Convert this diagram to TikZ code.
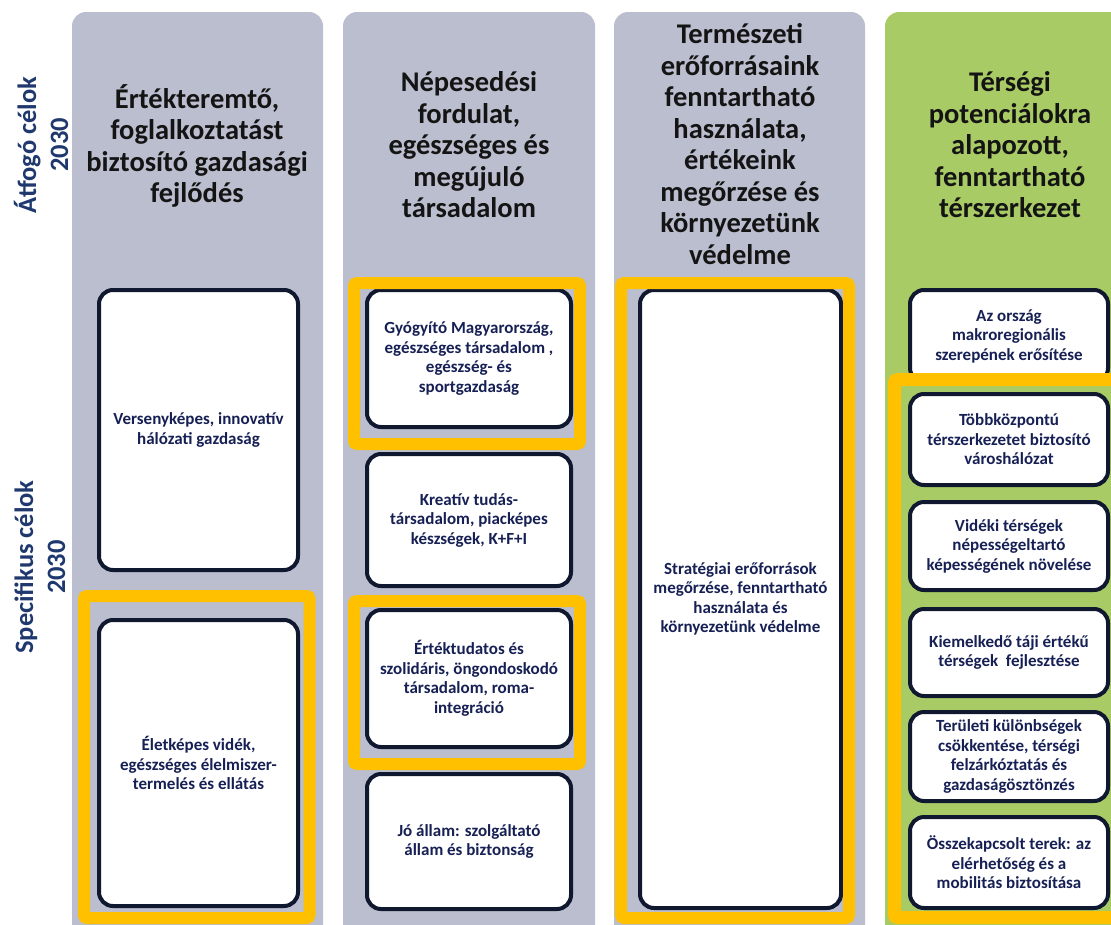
\documentclass[tikz,border=0pt]{standalone}
\usepackage{fontspec}
\setmainfont{Carlito}

\definecolor{colgray}{RGB}{186,190,206}
\definecolor{colgreen}{RGB}{169,203,101}
\definecolor{framegold}{RGB}{255,192,0}
\definecolor{boxline}{RGB}{16,24,48}
\definecolor{boxtext}{RGB}{22,32,84}
\definecolor{sidetext}{RGB}{31,56,110}

\tikzset{
  column/.style={rounded corners=14pt},
  goal/.style={draw=boxline, line width=4pt, fill=white, rounded corners=14pt,
    align=center, text=boxtext, inner sep=0pt,
    font=\fontsize{17}{19.5}\selectfont\bfseries},
  head/.style={align=center, text=black!92,
    font=\fontsize{28.5}{31.5}\selectfont\bfseries},
  side/.style={rotate=90, align=center, text=sidetext,
    font=\fontsize{26.5}{32}\selectfont\bfseries},
  frame/.style={draw=framegold, line width=12pt, rounded corners=3pt},
}

\begin{document}
\begin{tikzpicture}[x=1pt, y=-1pt]
  \useasboundingbox (0,0) rectangle (1111,924);

  % columns
  \fill[colgray, column] (72,12) rectangle (323,960);
  \fill[colgray, column] (343,12) rectangle (595,960);
  \fill[colgray, column] (614,12) rectangle (865,960);
  \fill[colgreen, column] (885,12) rectangle (1140,960);

  % row labels
  \node[side] (atfogo) at (41,145) {Átfogó célok\\2030};
  \node[side] (specifikus) at (40,567) {Specifikus célok\\2030};

  % headings
  \node[head] (h1) at (197,146) {Értékteremtő,\\foglalkoztatást\\biztosító gazdasági\\fejlődés};
  \node[head] (h2) at (469,145) {Népesedési\\fordulat,\\egészséges és\\megújuló\\társadalom};
  \node[head] (h3) at (740,144) {Természeti\\erőforrásaink\\fenntartható\\használata,\\értékeink\\megőrzése és\\környezetünk\\védelme};
  \node[head] (h4) at (1010,145) {Térségi\\potenciálokra\\alapozott,\\fenntartható\\térszerkezet};

  % column 1
  \node[goal, minimum width=199pt, minimum height=280pt] (verseny) at (198.5,430)
    {Versenyképes, innovatív\\hálózati gazdaság};
  \node[goal, minimum width=199pt, minimum height=286pt] (videk) at (198.5,763)
    {Életképes vidék,\\egészséges élelmiszer-\\termelés és ellátás};

  % column 2
  \node[goal, minimum width=204pt, minimum height=137pt] (gyogyito) at (469,358.5)
    {Gyógyító Magyarország,\\egészséges társadalom ,\\egészség- és\\sportgazdaság};
  \node[goal, minimum width=204pt, minimum height=132pt] (kreativ) at (469,520)
    {Kreatív tudás-\\társadalom, piacképes\\készségek, K+F+I};
  \node[goal, minimum width=204pt, minimum height=137pt] (ertek) at (469,678.5)
    {Értéktudatos és\\szolidáris, öngondoskodó\\társadalom, roma-\\integráció};
  \node[goal, minimum width=204pt, minimum height=135pt] (allam) at (469,841.5)
    {Jó állam: szolgáltató\\állam és biztonság};

  % column 3
  \node[goal, minimum width=201pt, minimum height=618pt] (strategia) at (740.5,599)
    {Stratégiai erőforrások\\megőrzése, fenntartható\\használata és\\környezetünk védelme};

  % column 4
  \node[goal, minimum width=198pt, minimum height=92pt] (makro) at (1009,336)
    {Az ország\\makroregionális\\szerepének erősítése};
  \node[goal, minimum width=198pt, minimum height=91pt] (tobb) at (1009,439.5)
    {Többközpontú\\térszerkezetet biztosító\\városhálózat};
  \node[goal, minimum width=198pt, minimum height=88pt] (videki) at (1009,546)
    {Vidéki térségek\\népességeltartó\\képességének növelése};
  \node[goal, minimum width=198pt, minimum height=87pt] (taji) at (1009,652.5)
    {Kiemelkedő táji értékű\\térségek\ \ fejlesztése};
  \node[goal, minimum width=198pt, minimum height=89pt] (teruleti) at (1009,756.5)
    {Területi különbségek\\csökkentése, térségi\\felzárkóztatás és\\gazdaságösztönzés};
  \node[goal, minimum width=198pt, minimum height=91pt] (terek) at (1009,862.5)
    {Összekapcsolt terek: az\\elérhetőség és a\\mobilitás biztosítása};

  % highlight frames
  \draw[frame] (84,596) rectangle (309.5,918);
  \draw[frame] (354,283) rectangle (580,444);
  \draw[frame] (354,601) rectangle (580,764);
  \draw[frame] (621,283) rectangle (849,918);
  \draw[frame, line width=13pt] (894.5,379.5) rectangle (1140,917.5);
\end{tikzpicture}
\end{document}
